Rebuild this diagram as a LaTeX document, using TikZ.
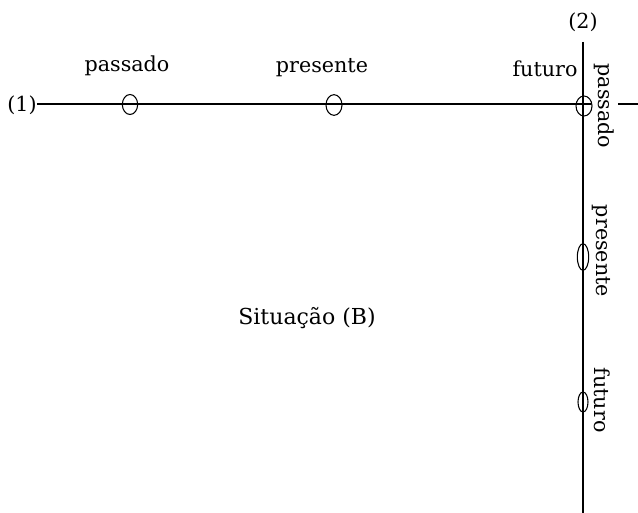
\documentclass[tikz,border=0pt]{standalone}
\usepackage{fontspec}
\setmainfont{DejaVu Serif}
\usetikzlibrary{shapes.geometric}
\begin{document}
\begin{tikzpicture}[x=0.75pt,y=-0.75pt,
  lbl/.style={inner sep=0pt,font=\fontsize{15.5}{18}\selectfont},
  ell/.style={draw,ellipse,inner sep=0pt,line width=0.8pt},
  axis/.style={line width=1.1pt}]
\useasboundingbox (0,0) rectangle (638,513);
% horizontal axis
\node[lbl] (n1) at (22,105) {(1)};
\coordinate (hA) at (591,104);
\coordinate (hB) at (618,104);
\coordinate (hE) at (638,104);
\draw[axis] (n1.east |- hA) -- (hA);
\draw[axis] (hB) -- (hE);
% vertical axis
\node[lbl] (n2) at (583,22) {(2)};
\coordinate (vT) at (583,42);
\coordinate (vB) at (583,513);
\draw[axis] (vT) -- (vB);
% points on horizontal axis
\node[ell,minimum width=11.5pt,minimum height=15pt] (h1) at (130,104.5) {};
\node[ell,minimum width=12pt,minimum height=15.5pt] (h2) at (334,105) {};
\node[ell,minimum width=12pt,minimum height=15pt] (h3) at (584,106) {};
% points on vertical axis
\node[ell,minimum width=8.5pt,minimum height=20pt] (v2) at (583,257) {};
\node[ell,minimum width=7.5pt,minimum height=15pt] (v3) at (583,402) {};
% labels horizontal
\node[lbl] (lp1) at (127,66) {passado};
\node[lbl] (lp2) at (322,68) {presente};
\node[lbl] (lp3) at (545,69) {futuro};
% labels vertical
\node[lbl,rotate=-90] (lv1) at (604,106) {passado};
\node[lbl,rotate=-90] (lv2) at (601,251) {presente};
\node[lbl,rotate=-90] (lv3) at (602,400) {futuro};
% situation
\node[lbl,font=\fontsize{16.5}{19}\selectfont] (sit) at (307,318) {Situação (B)};
\end{tikzpicture}
\end{document}
